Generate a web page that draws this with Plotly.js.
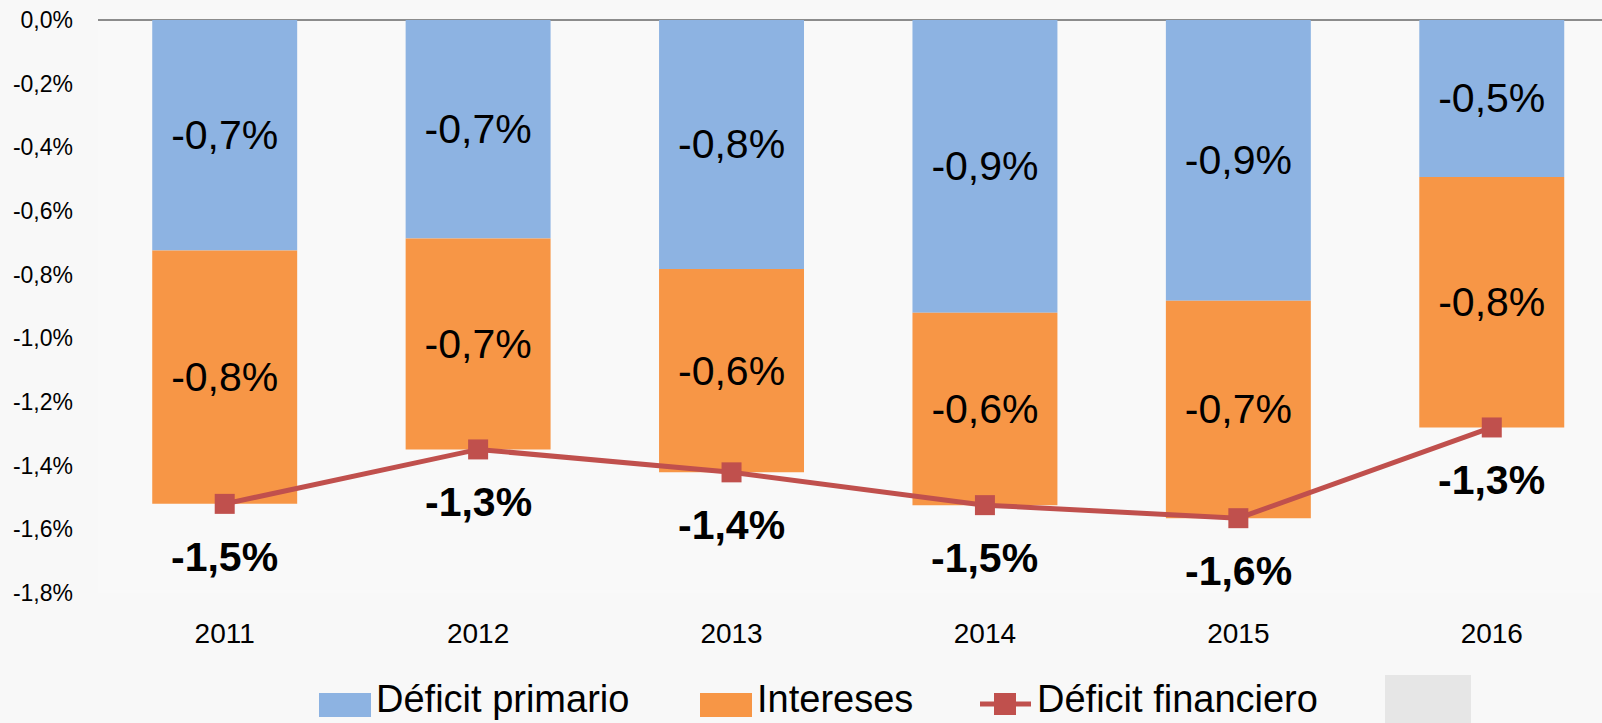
<!DOCTYPE html>
<html>
<head>
<meta charset="utf-8">
<script src="https://cdn.plot.ly/plotly-3.0.1.min.js"></script>
<style>
  html, body { margin: 0; padding: 0; background: #f8f8f8; }
  #chart { width: 1602px; height: 723px; }
</style>
</head>
<body>
<div id="chart"></div>
<script>
// ---- data ----
const years = ['2011', '2012', '2013', '2014', '2015', '2016'];
const deficitPrimario = [-0.724, -0.686, -0.782, -0.920, -0.882, -0.493];
const intereses = [-0.796, -0.663, -0.639, -0.604, -0.683, -0.787];
const deficitFinanciero = [-1.520, -1.349, -1.421, -1.524, -1.565, -1.280];
const yTickVals = [0, -0.2, -0.4, -0.6, -0.8, -1.0, -1.2, -1.4, -1.6, -1.8];
const yTickText = ['0,0%', '-0,2%', '-0,4%', '-0,6%', '-0,8%', '-1,0%', '-1,2%', '-1,4%', '-1,6%', '-1,8%'];
const seriesNames = ['Déficit primario', 'Intereses', 'Déficit financiero'];

const fmt = v => v.toFixed(1).replace('.', ',') + '%';

const FONT = 'Liberation Sans, Arial, sans-serif';
const BLUE = '#8db3e2', ORANGE = '#f79646', RED = '#c0504d';

// plot area geometry (px) used only for custom legend placement
const L = 98, W = 1504, T = 20, H = 573;
const px = x => (x - L) / W;
const py = y => (T + H - y) / H;

const traces = [
  {
    type: 'bar', name: seriesNames[0], x: years, y: deficitPrimario,
    marker: { color: BLUE },
    text: deficitPrimario.map(fmt), textposition: 'inside', insidetextanchor: 'middle',
    textfont: { family: FONT, size: 41, color: '#000' }, constraintext: 'none',
    showlegend: false, hoverinfo: 'x+y'
  },
  {
    type: 'bar', name: seriesNames[1], x: years, y: intereses,
    marker: { color: ORANGE },
    text: intereses.map(fmt), textposition: 'inside', insidetextanchor: 'middle',
    textfont: { family: FONT, size: 41, color: '#000' }, constraintext: 'none',
    showlegend: false, hoverinfo: 'x+y'
  },
  {
    type: 'scatter', mode: 'lines+markers', name: seriesNames[2], x: years, y: deficitFinanciero,
    line: { color: RED, width: 5 },
    marker: { symbol: 'square', size: 20, color: RED },
    showlegend: false, hoverinfo: 'x+y'
  }
];

// category axis: annotation x uses the category index
const annotations = years.map((yr, i) => ({
  x: i, y: deficitFinanciero[i], xref: 'x', yref: 'y',
  text: '<b>' + fmt(deficitFinanciero[i]) + '</b>', showarrow: false,
  yshift: -53, font: { family: FONT, size: 41, color: '#000' }
}));

// custom legend texts
const legendTexts = [
  { x: 374, t: seriesNames[0] },
  { x: 755, t: seriesNames[1] },
  { x: 1035, t: seriesNames[2] }
];
legendTexts.forEach(o => annotations.push({
  x: px(o.x), y: py(722), xref: 'paper', yref: 'paper', xanchor: 'left', yanchor: 'bottom',
  text: o.t, showarrow: false, font: { family: FONT, size: 38, color: '#000' }
}));

const shapes = [
  { type: 'rect', xref: 'paper', yref: 'paper', x0: px(1385), x1: px(1471), y0: py(675), y1: py(740),
    fillcolor: '#e6e6e6', line: { width: 0 }, layer: 'below' },
  { type: 'rect', xref: 'paper', yref: 'paper', x0: px(319), x1: px(371), y0: py(693), y1: py(717),
    fillcolor: BLUE, line: { width: 0 } },
  { type: 'rect', xref: 'paper', yref: 'paper', x0: px(700), x1: px(752), y0: py(693), y1: py(717),
    fillcolor: ORANGE, line: { width: 0 } },
  { type: 'line', xref: 'paper', yref: 'paper', x0: px(980), x1: px(1031), y0: py(704), y1: py(704),
    line: { color: RED, width: 5 } },
  { type: 'rect', xref: 'paper', yref: 'paper', x0: px(994), x1: px(1016), y0: py(693), y1: py(715),
    fillcolor: RED, line: { width: 0 } }
];

const layout = {
  width: 1602, height: 723,
  margin: { l: L, r: 0, t: T, b: 723 - T - H, pad: 0 },
  paper_bgcolor: '#f8f8f8', plot_bgcolor: '#f9f9f9',
  barmode: 'relative', bargap: 0.428,
  showlegend: false,
  font: { family: FONT, color: '#000' },
  xaxis: {
    type: 'category', range: [-0.5, 5.435], showgrid: false, zeroline: false, showline: false,
    ticks: '', tickfont: { family: FONT, size: 28, color: '#000' }, ticklabelstandoff: 21,
    fixedrange: true
  },
  yaxis: {
    range: [-1.8, 0], tickvals: yTickVals, ticktext: yTickText, showgrid: false,
    zeroline: true, zerolinecolor: '#8c8c8c', zerolinewidth: 2, showline: false,
    ticks: '', tickfont: { family: FONT, size: 23, color: '#000' }, ticklabelstandoff: 24,
    fixedrange: true
  },
  annotations: annotations,
  shapes: shapes
};

Plotly.newPlot('chart', traces, layout, { displayModeBar: false, staticPlot: true });
</script>
</body>
</html>
